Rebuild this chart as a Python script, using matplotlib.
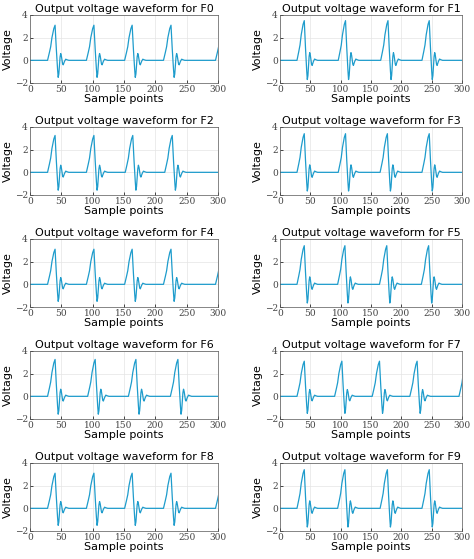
import matplotlib
matplotlib.use("Agg")
import matplotlib.pyplot as plt
import numpy as np

titles = [f"Output voltage waveform for F{i}" for i in range(10)]
# pulse template: offsets from peak and values
pulse_dx = [-12, -9, -7, -5, -2, 0, 2, 4, 5, 6, 8, 9, 10, 12, 13, 15, 17, 19, 22]
pulse_v = [0, 0.7, 1.2, 2.0, 2.8, 3.1, 1.0, -0.8, -1.5, -1.2, 0.3, 0.6, 0.4, -0.3, -0.4, -0.1, 0.1, 0.05, 0]
peaks = [
    [40, 102, 163, 225, 308],
    [40, 108, 178, 246],
    [40, 102, 164, 227],
    [40, 108, 177, 246],
    [40, 102, 163, 225, 308],
    [40, 107, 176, 245],
    [40, 104, 169, 236],
    [40, 102, 164, 226, 307],
    [40, 102, 163, 225, 308],
    [40, 107, 177, 246],
]
amps = [1.0, 1.13, 1.05, 1.1, 1.0, 1.1, 1.05, 1.0, 1.0, 1.1]

fig = plt.figure(figsize=(4.74, 5.59), dpi=100)
W, H = 474, 559
color = "#1e9ccc"
for i in range(10):
    r, c = divmod(i, 2)
    x0 = 30 if c == 0 else 280
    w = 188 if c == 0 else 182
    y0 = 15 + r * 112
    ax = fig.add_axes([x0 / W, 1 - (y0 + 68) / H, w / W, 68 / H])
    xs, ys = [0], [0]
    for p in peaks[i]:
        for dx, v in zip(pulse_dx, pulse_v):
            xs.append(p + dx); ys.append(v * amps[i])
    xs.append(330); ys.append(0)
    ax.plot(xs, ys, color=color, lw=0.9)
    ax.set_xlim(0, 300); ax.set_ylim(-2, 4)
    ax.set_xticks(range(0, 301, 50)); ax.set_yticks([-2, 0, 2, 4])
    ax.grid(True, color="#e4e4e4", lw=0.5)
    for lab in ax.get_xticklabels() + ax.get_yticklabels():
        lab.set_family("DejaVu Serif"); lab.set_fontsize(6.5); lab.set_color("#444444")
    ax.tick_params(length=2, width=0.5, pad=1.5, direction="in")
    for s in ax.spines.values():
        s.set_linewidth(0.5); s.set_color("#555555")
    ax.set_title(titles[i], fontsize=8, pad=2)
    ax.set_xlabel("Sample points", fontsize=8, labelpad=0)
    ax.set_ylabel("Voltage", fontsize=8, labelpad=1)

fig.savefig("out.png", dpi=100)
